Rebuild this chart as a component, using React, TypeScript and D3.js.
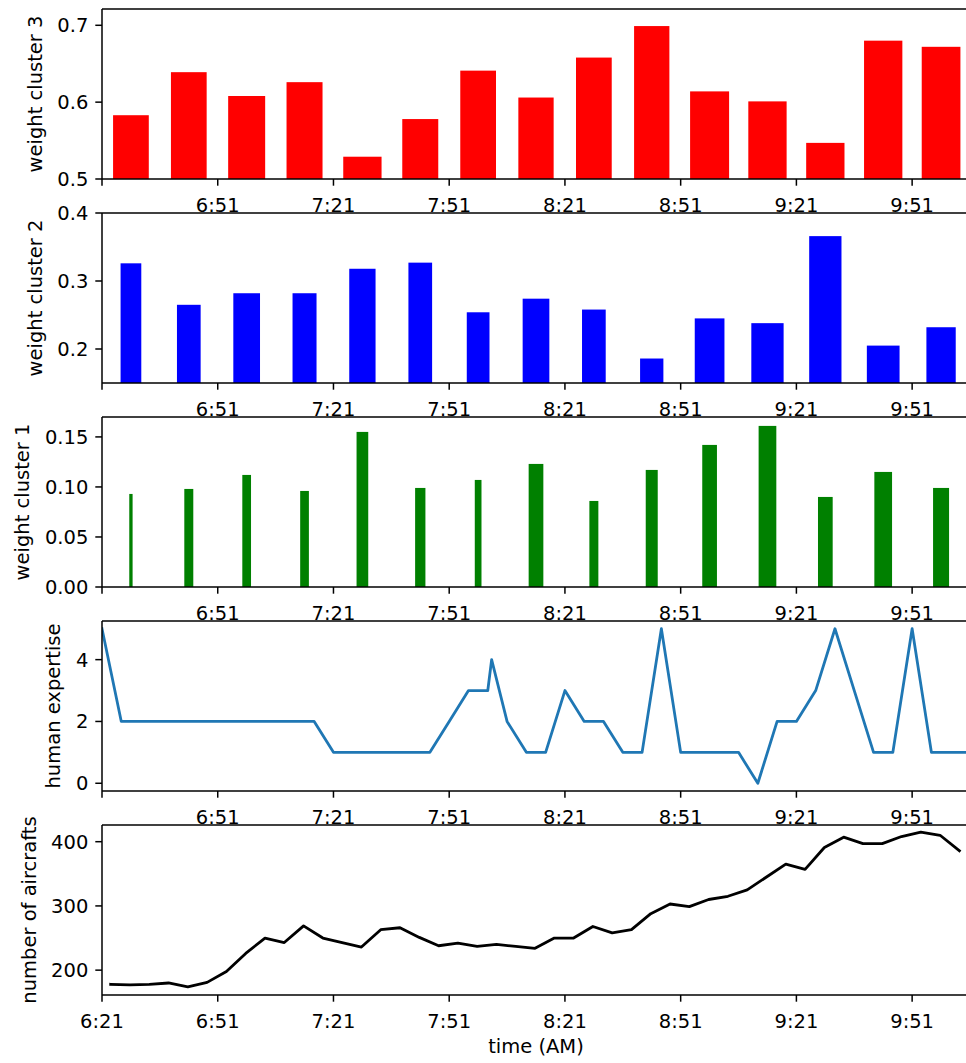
import React from 'react';
import * as d3 from 'd3';

// ---------- data (minutes after 6:21) ----------
const tickMinutes = [0, 30, 60, 90, 120, 150, 180, 210];
const tickLabels = ['6:21', '6:51', '7:21', '7:51', '8:21', '8:51', '9:21', '9:51'];

const barCenters = [7.5, 22.5, 37.5, 52.5, 67.5, 82.5, 97.5, 112.5, 127.5, 142.5, 157.5, 172.5, 187.5, 202.5, 217.5];

const cluster3 = [0.583, 0.639, 0.608, 0.626, 0.529, 0.578, 0.641, 0.606, 0.658, 0.699, 0.614, 0.601, 0.547, 0.68, 0.672];
const cluster3Width = [9.26, 9.26, 9.59, 9.33, 9.93, 9.33, 9.26, 9.15, 9.26, 9.15, 10.11, 9.93, 9.93, 9.93, 10.03];

const cluster2 = [0.326, 0.265, 0.282, 0.282, 0.318, 0.327, 0.254, 0.274, 0.258, 0.186, 0.245, 0.238, 0.366, 0.205, 0.232];
const cluster2Width = [5.37, 6.14, 6.92, 6.22, 6.82, 6.14, 5.89, 6.92, 6.14, 6.04, 7.7, 8.37, 8.37, 8.48, 7.6];

const cluster1 = [0.093, 0.098, 0.112, 0.096, 0.155, 0.099, 0.107, 0.123, 0.086, 0.117, 0.142, 0.161, 0.09, 0.115, 0.099];
const cluster1Width = [0.86, 2.33, 2.26, 2.26, 3.03, 2.67, 1.74, 3.81, 2.33, 3.11, 3.81, 4.59, 3.81, 4.59, 4.15];

const expertiseTimes = [0, 5, 10, 15, 20, 25, 30, 35, 40, 45, 50, 55, 60, 65, 70, 75, 80, 85, 90, 95, 100, 101, 105, 110, 115, 120, 125, 130, 135, 140, 145, 150, 155, 160, 165, 170, 175, 180, 185, 190, 195, 200, 205, 210, 215, 220, 225];
const expertiseValues = [5, 2, 2, 2, 2, 2, 2, 2, 2, 2, 2, 2, 1, 1, 1, 1, 1, 1, 2, 3, 3, 4, 2, 1, 1, 3, 2, 2, 1, 1, 5, 1, 1, 1, 1, 0, 2, 2, 3, 5, 3, 1, 1, 5, 1, 1, 1];

const aircraftStart = 2.25;
const aircraftStep = 5;
const aircraftCounts = [178, 177, 178, 180, 174, 181, 198, 226, 250, 243, 269, 250, 243, 236, 263, 266, 251, 238, 242, 237, 240, 237, 234, 250, 250, 268, 258, 263, 288, 303, 299, 310, 315, 325, 345, 365, 357, 391, 407, 397, 397, 408, 415, 410, 386];

// ---------- layout ----------
const W = 966;
const H = 1063;
const FONT = 'DejaVu Sans, sans-serif';
const FS = 19.5;
const AX_LEFT = 102;
const AX_RIGHT = 970;
const PANEL_TOP0 = 9;
const PANEL_STEP = 204;
const PANEL_H = 170;
const TICK = 6.7;

const x = d3.scaleLinear().domain([0, 225]).range([AX_LEFT, AX_RIGHT]);

type Panel = {
  label: string;
  domain: [number, number];
  ticks: number[];
  fmt: (v: number) => string;
  kind: 'bar' | 'line';
  color: string;
  values: number[];
  times: number[];
  widths?: number[];
  showFirstX: boolean;
};

const panels: Panel[] = [
  { label: 'weight cluster 3', domain: [0.5, 0.7212], ticks: [0.5, 0.6, 0.7], fmt: d3.format('.1f'), kind: 'bar', color: '#ff0000', values: cluster3, times: barCenters, widths: cluster3Width, showFirstX: false },
  { label: 'weight cluster 2', domain: [0.15, 0.4], ticks: [0.2, 0.3, 0.4], fmt: d3.format('.1f'), kind: 'bar', color: '#0000ff', values: cluster2, times: barCenters, widths: cluster2Width, showFirstX: false },
  { label: 'weight cluster 1', domain: [0, 0.1699], ticks: [0, 0.05, 0.1, 0.15], fmt: d3.format('.2f'), kind: 'bar', color: '#008000', values: cluster1, times: barCenters, widths: cluster1Width, showFirstX: false },
  { label: 'human expertise', domain: [-0.25, 5.25], ticks: [0, 2, 4], fmt: d3.format('d'), kind: 'line', color: '#1f77b4', values: expertiseValues, times: expertiseTimes, showFirstX: false },
  { label: 'number of aircrafts', domain: [161.3, 426], ticks: [200, 300, 400], fmt: d3.format('d'), kind: 'line', color: '#000000', values: aircraftCounts, times: aircraftCounts.map((_, i) => aircraftStart + i * aircraftStep), showFirstX: true },
];

function textWidth(s: string): number {
  let w = 0;
  for (const ch of s) w += ch === '.' ? 0.318 : 0.636;
  return w * FS;
}

function PanelView({ p, idx }: { p: Panel; idx: number }) {
  const top = PANEL_TOP0 + idx * PANEL_STEP;
  const bottom = top + PANEL_H;
  const y = d3.scaleLinear().domain(p.domain).range([bottom, top]);
  const clipId = `clip${idx}`;
  const maxLabelW = d3.max(p.ticks.map((t) => textWidth(p.fmt(t)))) || 0;
  const labelRight = AX_LEFT - TICK - 7;
  const yLabelX = labelRight - maxLabelW - 22.5;

  const line = d3
    .line<number>()
    .x((_, i) => x(p.times[i]))
    .y((v) => y(v));

  return (
    <g>
      <defs>
        <clipPath id={clipId}>
          <rect x={AX_LEFT} y={top} width={AX_RIGHT - AX_LEFT} height={PANEL_H} />
        </clipPath>
      </defs>
      <g clipPath={`url(#${clipId})`}>
        {p.kind === 'bar' &&
          p.values.map((v, i) => {
            const w = p.widths![i];
            const x0 = x(p.times[i] - w / 2);
            const x1 = x(p.times[i] + w / 2);
            return (
              <rect key={i} x={x0} y={y(v)} width={x1 - x0} height={bottom - y(v)} fill={p.color} />
            );
          })}
        {p.kind === 'line' && (
          <path d={line(p.values) || ''} fill="none" stroke={p.color} strokeWidth={2.8} strokeLinejoin="round" strokeLinecap="square" />
        )}
      </g>
      {/* spines */}
      <line x1={AX_LEFT} x2={AX_LEFT} y1={top} y2={bottom} stroke="#000" strokeWidth={1.5} />
      <line x1={AX_LEFT} x2={W + 10} y1={top} y2={top} stroke="#000" strokeWidth={1.5} />
      <line x1={AX_LEFT} x2={W + 10} y1={bottom} y2={bottom} stroke="#000" strokeWidth={1.5} />
      {/* y ticks */}
      {p.ticks.map((t, i) => (
        <g key={i}>
          <line x1={AX_LEFT - TICK} x2={AX_LEFT} y1={y(t)} y2={y(t)} stroke="#000" strokeWidth={1.5} />
          <text x={labelRight} y={y(t)} dy="0.36em" textAnchor="end" fontFamily={FONT} fontSize={FS} fill="#000">
            {p.fmt(t)}
          </text>
        </g>
      ))}
      {/* x ticks */}
      {tickMinutes.map((m, i) => (
        <g key={i}>
          <line x1={x(m)} x2={x(m)} y1={bottom} y2={bottom + TICK} stroke="#000" strokeWidth={1.5} />
          {(i > 0 || p.showFirstX) && (
            <text x={x(m)} y={bottom + 32.5} textAnchor="middle" fontFamily={FONT} fontSize={FS} fill="#000">
              {tickLabels[i]}
            </text>
          )}
        </g>
      ))}
      <text
        transform={`translate(${yLabelX},${(top + bottom) / 2}) rotate(-90)`}
        textAnchor="middle"
        dy="0.36em"
        fontFamily={FONT}
        fontSize={FS}
        fill="#000"
      >
        {p.label}
      </text>
    </g>
  );
}

export default function App() {
  return (
    <svg
      width={W}
      height={H}
      viewBox={`0 0 ${W} ${H}`}
      style={{ position: 'absolute', left: 0, top: 0, background: '#fff' }}
    >
      <rect x={0} y={0} width={W} height={H} fill="#fff" />
      {panels.map((p, i) => (
        <PanelView key={i} p={p} idx={i} />
      ))}
      <text x={(AX_LEFT + AX_RIGHT) / 2} y={1053} textAnchor="middle" fontFamily={FONT} fontSize={FS} fill="#000">
        time (AM)
      </text>
    </svg>
  );
}
